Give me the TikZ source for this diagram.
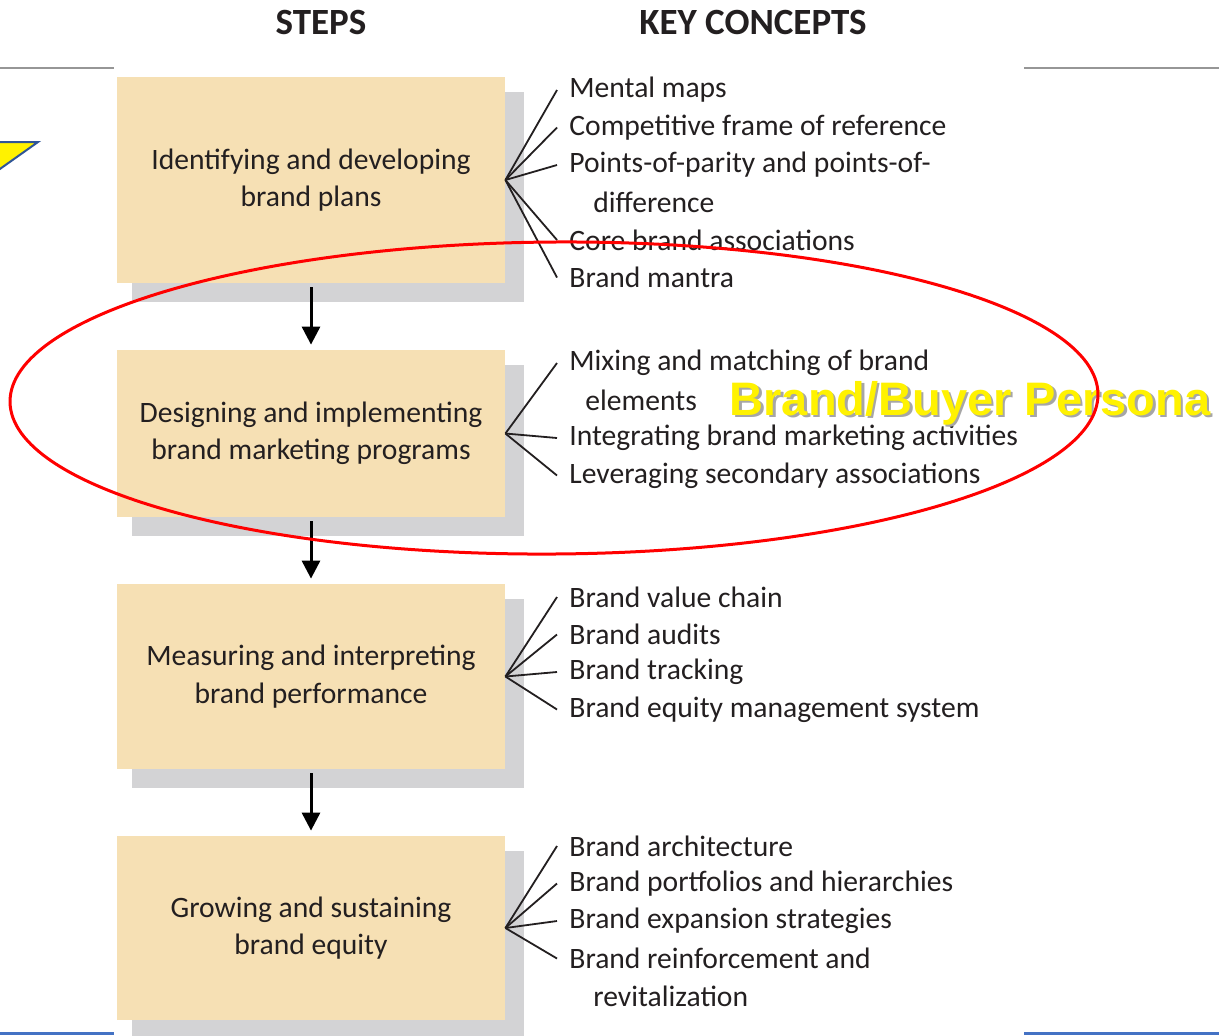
\documentclass[tikz,border=0pt]{standalone}
\usepackage{fontspec}
\setmainfont{Carlito}
\newfontfamily\personafont{Liberation Sans}
\usetikzlibrary{arrows.meta,calc,backgrounds}
\definecolor{boxtan}{RGB}{246,224,180}
\definecolor{shadowgray}{RGB}{211,211,213}
\definecolor{inkgray}{RGB}{35,31,32}
\definecolor{rulegray}{RGB}{150,150,150}
\definecolor{ruleblue}{RGB}{68,114,196}
\definecolor{arrowblue}{RGB}{47,85,151}
\tikzset{
  stepbox/.style={fill=boxtan, text=inkgray, minimum width=194pt, align=center,
    inner sep=0pt, font=\fontsize{14.8}{18.75}\selectfont},
  concept/.style={anchor=west, text=inkgray, inner xsep=6pt, inner ysep=0pt,
    font=\fontsize{14.8}{18.75}\selectfont},
  fan/.style={draw=inkgray, line width=0.9pt},
  flow/.style={draw=black, line width=1.5pt, -{Triangle[length=9pt,width=9pt]}},
  heading/.style={text=inkgray, font=\bfseries\fontsize{18.5}{22}\selectfont},
  persona/.style={text=yellow, font=\personafont\bfseries\fontsize{23.5}{28}\selectfont}
}
\begin{document}
\begin{tikzpicture}[x=0.5pt,y=-0.5pt]
\useasboundingbox (0,0) rectangle (1219,1035);
\draw[rulegray, line width=1pt] (0,68) -- (114,68);
\draw[rulegray, line width=1pt] (1024,68) -- (1219,68);
\draw[ruleblue, line width=1.5pt] (0,1033.5) -- (114,1033.5);
\draw[ruleblue, line width=1.5pt] (1024,1033.5) -- (1219,1033.5);
\begin{scope}
\clip (0,0) rectangle (1219,1035);
\filldraw[fill=yellow, draw=arrowblue, line width=1pt] (-10,142) -- (38,142) -- (-10,176) -- cycle;
\end{scope}

\node[heading] (steps) at (321,22) {STEPS};
\node[heading] (keys) at (753,22) {KEY CONCEPTS};

\node[stepbox, minimum height=103pt] (b1) at (311,180) {Identifying and developing\\brand plans};
\node[stepbox, minimum height=83.5pt] (b2) at (311,433.5) {Designing and implementing\\brand marketing programs};
\node[stepbox, minimum height=92.5pt] (b3) at (311,676.5) {Measuring and interpreting\\brand performance};
\node[stepbox, minimum height=92pt] (b4) at (311,928) {Growing and sustaining\\brand equity};
\begin{pgfonlayer}{background}
\fill[white] (0,0) rectangle (1219,1035);
\fill[shadowgray] ([shift={(15,15)}]b1.north west) rectangle ([shift={(19,19)}]b1.south east);
\fill[shadowgray] ([shift={(15,15)}]b2.north west) rectangle ([shift={(19,19)}]b2.south east);
\fill[shadowgray] ([shift={(15,15)}]b3.north west) rectangle ([shift={(19,19)}]b3.south east);
\fill[shadowgray] ([shift={(15,15)}]b4.north west) rectangle ([shift={(19,19)}]b4.south east);
\end{pgfonlayer}

\draw[flow, shorten <=2pt, shorten >=2.5pt] (b1.south) -- (b2.north);
\draw[flow, shorten <=2pt, shorten >=2.5pt] (b2.south) -- (b3.north);
\draw[flow, shorten <=2pt, shorten >=2.5pt] (b3.south) -- (b4.north);

\node[concept] (c11) at (557,90) {Mental maps};
\node[concept] (c12) at (557,127.5) {Competitive frame of reference};
\node[concept] (c13) at (557,165) {Points-of-parity and points-of-};
\node[concept] (c13b) at (581,202.5) {difference};
\node[concept] (c14) at (557,240) {Core brand associations};
\node[concept] (c15) at (557,277.5) {Brand mantra};
\draw[fan] (b1.east) -- (c11.west);
\draw[fan] (b1.east) -- (c12.west);
\draw[fan] (b1.east) -- (c13.west);
\draw[fan] (b1.east) -- (c14.west);
\draw[fan] (b1.east) -- (c15.west);

\node[concept] (c21) at (557,363) {Mixing and matching of brand};
\node[concept] (c21b) at (573,400.5) {elements};
\node[concept] (c22) at (557,438) {Integrating brand marketing activities};
\node[concept] (c23) at (557,475.5) {Leveraging secondary associations};
\draw[fan] (b2.east) -- (c21.west);
\draw[fan] (b2.east) -- (c22.west);
\draw[fan] (b2.east) -- (c23.west);

\node[concept] (c31) at (557,597) {Brand value chain};
\node[concept] (c32) at (557,634.5) {Brand audits};
\node[concept] (c33) at (557,672) {Brand tracking};
\node[concept] (c34) at (557,709.5) {Brand equity management system};
\draw[fan] (b3.east) -- (c31.west);
\draw[fan] (b3.east) -- (c32.west);
\draw[fan] (b3.east) -- (c33.west);
\draw[fan] (b3.east) -- (c34.west);

\node[concept] (c41) at (557,846) {Brand architecture};
\node[concept] (c42) at (557,883.5) {Brand portfolios and hierarchies};
\node[concept] (c43) at (557,921) {Brand expansion strategies};
\node[concept] (c44) at (557,958.5) {Brand reinforcement and};
\node[concept] (c44b) at (581,996) {revitalization};
\draw[fan] (b4.east) -- (c41.west);
\draw[fan] (b4.east) -- (c42.west);
\draw[fan] (b4.east) -- (c43.west);
\draw[fan] (b4.east) -- (c44.west);

\node[persona, text=black!35] (personashadow) at (972.5,405.5) {Brand/Buyer Persona};
\node[persona] (persona) at (970,403) {Brand/Buyer Persona};

\draw[red, line width=1.5pt, rotate around={0.4:(554,398)}] (554,398) ellipse [x radius=544, y radius=156];
\end{tikzpicture}
\end{document}
